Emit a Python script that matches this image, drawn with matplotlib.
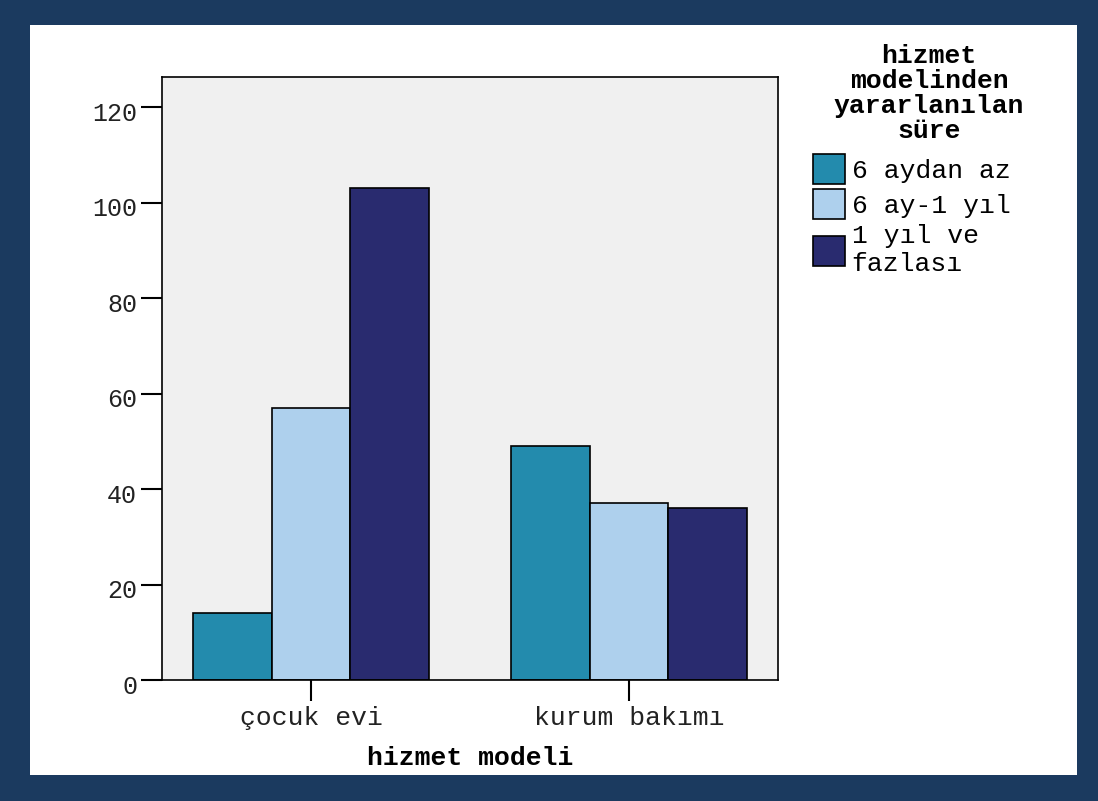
import matplotlib
matplotlib.use("Agg")
import matplotlib.pyplot as plt
import matplotlib.transforms as mtrans
import numpy as np
from matplotlib.patches import Rectangle

# Datos
categorias = ["çocuk evi", "kurum bakımı"]
series = ["6 aydan az", "6 ay-1 yıl", "1 yıl ve\nfazlası"]
alt_6ay = [14, 49]
ay6_1yil = [57, 37]
yil1_fazla = [103, 36]
valores = [alt_6ay, ay6_1yil, yil1_fazla]
colores = ["#238BAD", "#AED0ED", "#292B6F"]
yticks = [0, 20, 40, 60, 80, 100, 120]
titulo_leyenda = "hizmet\nmodelinden\nyararlanılan\nsüre"

plt.rcParams["font.family"] = ["Liberation Mono", "DejaVu Sans Mono"]
fs = 19

fig = plt.figure(figsize=(10.98, 8.01), dpi=100)
fig.patch.set_facecolor("#1B3A5F")
# Recuadro blanco interior (por debajo de los ejes)
fig.patches.append(Rectangle((30 / 1098, 1 - 775 / 801), 1047 / 1098, 750 / 801,
                             transform=fig.transFigure, facecolor="white",
                             edgecolor="none", zorder=-5))

ax = fig.add_axes([162 / 1098, 1 - 680 / 801, 616 / 1098, 603 / 801])
ax.set_facecolor("#F0F0F0")

x = np.arange(len(categorias))
ancho = 0.247
for i, (vals, col, nom) in enumerate(zip(valores, colores, series)):
    ax.bar(x + (i - 1) * ancho, vals, ancho, color=col, edgecolor="black",
           linewidth=1.2, label=nom, zorder=2)

ax.set_xlim(-0.4686, 1.4686)
ax.set_ylim(0, 126.3)
ax.set_yticks(yticks)
ax.set_xticks(x)
ax.set_xticklabels(categorias)
ax.tick_params(axis="both", length=15, width=1.5, colors="black",
               labelcolor="#222222")
ax.tick_params(axis="y", pad=3, labelsize=18)
ax.tick_params(axis="x", pad=4, labelsize=fs)
for s in ax.spines.values():
    s.set_linewidth(1.2)

# las etiquetas del eje y quedan un poco por debajo de la marca
baja = mtrans.ScaledTranslation(0, -4 / 100, fig.dpi_scale_trans)
for lbl in ax.get_yticklabels():
    lbl.set_transform(lbl.get_transform() + baja)

ax.set_xlabel("hizmet modeli", fontsize=fs, fontweight="bold", labelpad=11)

# Título de la leyenda aparte, centrado como en el original
fig.text(929 / 1098, 1 - 44 / 801, titulo_leyenda, ha="center", va="top",
         fontsize=fs, fontweight="bold", linespacing=1.05, multialignment="center")

leg = ax.legend(loc="upper left", bbox_to_anchor=(813 / 1098, 1 - 154 / 801),
                bbox_transform=fig.transFigure, frameon=False, fontsize=fs,
                handlelength=1.21, handleheight=1.37, handletextpad=0.25,
                labelspacing=0.19, borderaxespad=0, borderpad=0)

fig.savefig("out.png", dpi=100, facecolor=fig.get_facecolor())
